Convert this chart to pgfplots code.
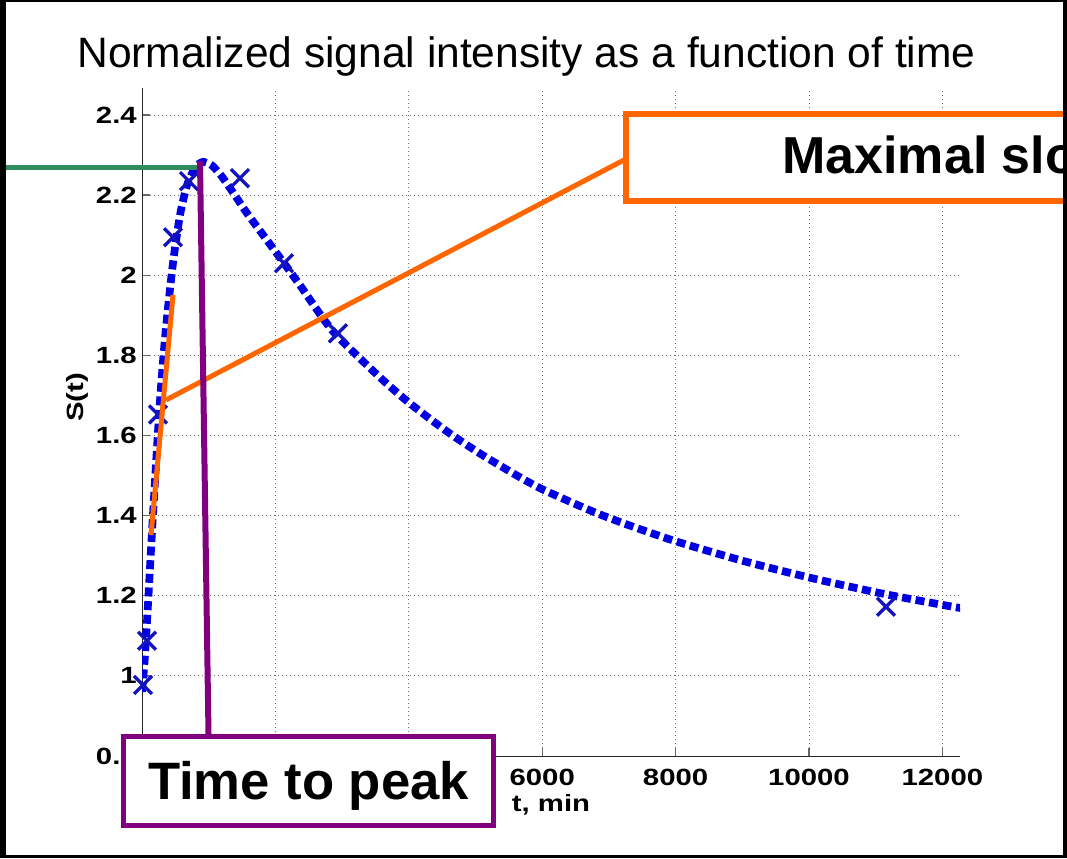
\documentclass[border=0pt]{standalone}
\usepackage{pgfplots}
\pgfplotsset{compat=1.18}
\usepackage{pgfplotstable}
\usepackage{fontspec}
\setmainfont{Liberation Sans}
% wide bold face used for the axis numbers and labels
\newfontfamily\tickfont[FakeStretch=1.25]{Liberation Sans}

\definecolor{curveblue}{RGB}{0,0,225}
\definecolor{markblue}{RGB}{20,20,190}
\definecolor{peakgreen}{RGB}{46,140,95}
\definecolor{peakpurple}{RGB}{128,0,128}
\definecolor{slopeorange}{RGB}{255,102,0}

% fitted signal curve S(t)
\pgfplotstableread{
t S
0 0.96
40 1.04
80 1.15
120 1.27
160 1.39
200 1.50
240 1.61
280 1.71
320 1.795
360 1.87
400 1.935
450 2.01
500 2.075
575 2.155
675 2.225
800 2.27
915 2.283
1050 2.274
1200 2.246
1400 2.198
1574 2.155
1874 2.0875
2174 2.02
2369 1.975
2864 1.86
3568 1.745
4018 1.68
4573 1.61
5068 1.555
5622 1.50
6012 1.465
6762 1.41
7317 1.375
8021 1.335
9011 1.287
10015 1.245
11110 1.205
12159 1.1725
12264 1.17
}\fitcurve

% measured samples
\pgfplotstableread{
t S
15 0.9775
75 1.0875
240 1.6525
465 2.095
705 2.235
1469 2.2425
2129 2.03
2938 1.855
11155 1.1725
}\samples

\begin{document}
\begin{tikzpicture}[x=0.75pt,y=0.75pt]
\begin{scope}
\clip (0,0) rectangle (1067,858);
\fill[white] (0,0) rectangle (1067,858);
\node[anchor=base, font=\fontsize{31.9}{38}\selectfont, inner sep=0pt]
  at (526.5,790) {Normalized signal intensity as a function of time};
\begin{axis}[
  at={(106.5pt,76.5pt)}, anchor=south west,
  scale only axis, width=613.5pt, height=501pt,
  xmin=0, xmax=12264, ymin=0.8, ymax=2.4675,
  axis lines=left,
  axis line style={-, black!85, line width=0.75pt},
  tick align=inside, major tick length=6pt,
  tick style={black!60, line width=1pt},
  xtick={0,2000,4000,6000,8000,10000,12000},
  xticklabels={,,,6000,8000,10000,12000},
  ytick={0.8,1,1.2,1.4,1.6,1.8,2,2.2,2.4},
  scaled ticks=false,
  /pgf/number format/1000 sep={},
  /pgf/number format/assume math mode=true,
  grid=major,
  major grid style={black!55, line width=0.75pt, dash pattern=on 0.75pt off 2.25pt},
  tick label style={font=\tickfont\bfseries\fontsize{17.6}{20}\selectfont},
  label style={font=\tickfont\bfseries\fontsize{17.6}{20}\selectfont},
  xticklabel style={anchor=base, yshift=-21.75pt},
  yticklabel style={anchor=east, inner sep=0pt, xshift=-3.75pt},
  xlabel={t, min},
  xlabel style={at={(axis description cs:0.5,0)}, anchor=base, yshift=-41.25pt},
  ylabel={S(t)},
  ylabel style={at={(axis description cs:-0.0795,0.537)}, anchor=center},
]
\addplot[curveblue, line width=5.8pt, dash pattern=on 6.75pt off 3.5pt,
  line cap=butt, smooth, tension=0.4, no marks] table[x=t,y=S]{\fitcurve};
\addplot[only marks, mark=x, mark size=9.5pt,
  mark options={markblue, line width=2.5pt}] table[x=t,y=S]{\samples};
\end{axis}

% peak value and time-to-peak markers
\draw[peakgreen, line width=3.75pt] (0,690) -- (199,690);
% tangent at the steepest rise and its callout line
\draw[slopeorange, line width=3.75pt] (151,323) -- (173,563);
\draw[slopeorange, line width=3.75pt] (166,458) -- (624,698);
\draw[peakpurple, line width=4.5pt] (200,697) -- (208.5,124);

% callout boxes
\draw[peakpurple, line width=3.75pt, fill=white] (123.5,32.5) rectangle (493.5,121.5);
\node[anchor=base, inner sep=0pt, font=\bfseries\fontsize{39.5}{46}\selectfont]
  at (308.5,59) {Time to peak};
\draw[slopeorange, line width=4.5pt, fill=white] (626,657) rectangle (1300,744);
\node[anchor=base west, inner sep=0pt, font=\bfseries\fontsize{39}{46}\selectfont]
  at (782,684) {Maximal slope};
\end{scope}

% frame
\fill[black] (0,0) rectangle (6,858);
\fill[black] (0,855.5) rectangle (1067,858);
\fill[black] (1063,0) rectangle (1067,858);
\fill[black] (0,0) rectangle (1067,3.5);
\pgfresetboundingbox
\path[use as bounding box] (0,0) rectangle (1067,858);
\end{tikzpicture}
\end{document}
